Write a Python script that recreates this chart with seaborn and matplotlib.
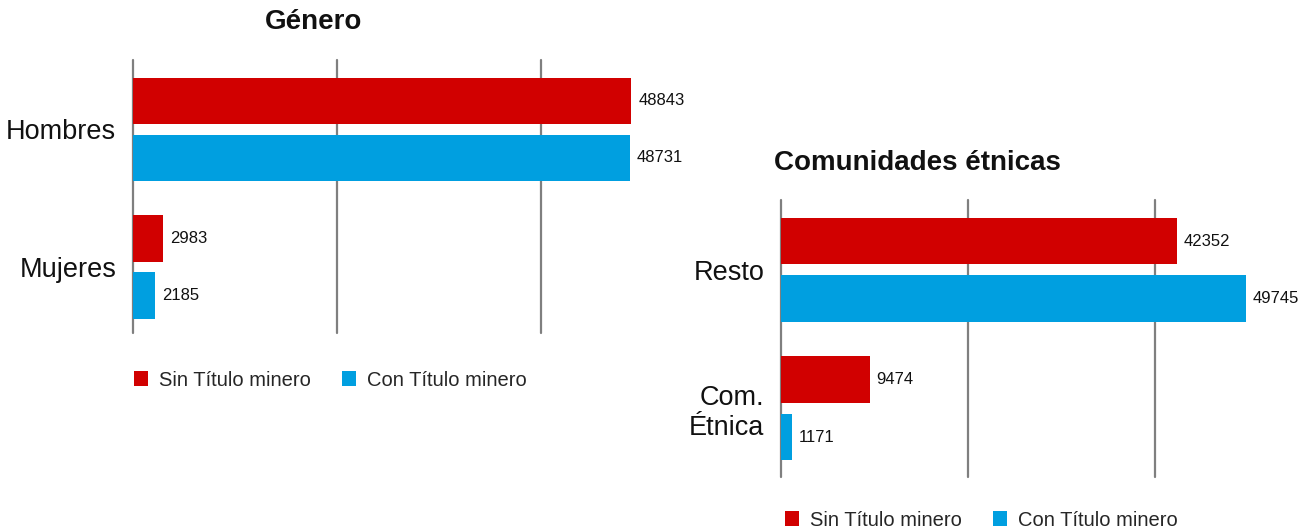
import matplotlib
matplotlib.use("Agg")
import matplotlib.pyplot as plt
import seaborn as sns
import pandas as pd

# data
series = ["Sin Título minero", "Con Título minero"]
colors = ["#D10000", "#009FE0"]

genero_cats = ["Hombres", "Mujeres"]
genero_sin = [48843, 2983]
genero_con = [48731, 2185]

etnia_cats = ["Resto", "Com.\nÉtnica"]
etnia_sin = [42352, 9474]
etnia_con = [49745, 1171]

sns.set_theme(style="white")
plt.rcParams["font.family"] = ["Liberation Sans", "DejaVu Sans"]

W, H = 1313, 532
fig = plt.figure(figsize=(W / 100, H / 100), dpi=100)


def make_df(cats, sin, con):
    return pd.DataFrame({
        "Categoria": cats * 2,
        "Serie": [series[0]] * len(cats) + [series[1]] * len(cats),
        "Valor": sin + con,
    })


def draw(ax, df, cats, ylim, title, title_xy, leg_xy):
    sns.barplot(data=df, y="Categoria", x="Valor", hue="Serie", order=cats,
                hue_order=series, palette=colors, orient="h", width=0.83,
                gap=0.19, saturation=1, linewidth=0, edgecolor="none",
                ax=ax, zorder=3)
    for c in ax.containers:
        ax.bar_label(c, fmt="%d", padding=5, fontsize=12, color="#111111")
    ax.set_xlim(0, 50000)
    ax.set_ylim(*ylim)
    ax.set_xticks([0, 20000, 40000])
    ax.set_xticklabels([])
    ax.grid(axis="x", color="#7f7f7f", linewidth=1.6)
    ax.grid(axis="y", visible=False)
    for gl in ax.get_xgridlines():
        gl.set_clip_on(False)
    ax.set_axisbelow(True)
    for s in ax.spines.values():
        s.set_visible(False)
    ax.tick_params(axis="both", length=0)
    ax.tick_params(axis="y", pad=12, labelsize=19.5, labelcolor="#111111")
    ax.set_xlabel("")
    ax.set_ylabel("")
    handles, labels = ax.get_legend_handles_labels()
    ax.get_legend().remove()
    fig.legend(handles, labels, loc="center left",
               bbox_to_anchor=(leg_xy[0] / W, 1 - leg_xy[1] / H),
               ncol=2, frameon=False, fontsize=14.5, handlelength=0.7,
               handleheight=0.7, handletextpad=0.55, columnspacing=1.55,
               borderpad=0, borderaxespad=0)
    fig.text(title_xy[0] / W, 1 - title_xy[1] / H, title, ha="center",
             va="center", fontsize=20, fontweight="bold", color="#111111")


ax1 = fig.add_axes([133 / W, (H - 333) / H, 510 / W, 273 / H])
draw(ax1, make_df(genero_cats, genero_sin, genero_con), genero_cats,
     (1.48, -0.505), "Género", (314, 22), (134, 380))

ax2 = fig.add_axes([781 / W, (H - 477) / H, 467.5 / W, 277 / H])
draw(ax2, make_df(etnia_cats, etnia_sin, etnia_con), etnia_cats,
     (1.495, -0.505), "Comunidades étnicas", (917, 163), (785, 520))

fig.savefig("out.png", dpi=100)
